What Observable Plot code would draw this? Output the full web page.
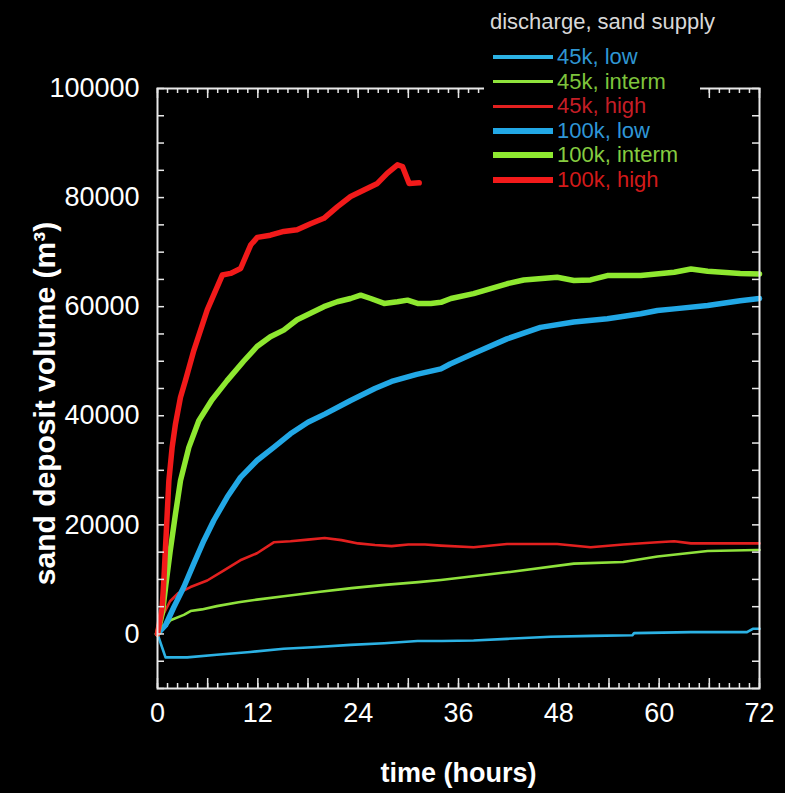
<!DOCTYPE html>
<html>
<head>
<meta charset="utf-8">
<script src="https://cdn.jsdelivr.net/npm/d3@7"></script>
<script src="https://cdn.jsdelivr.net/npm/@observablehq/plot@0.6"></script>
<style>
html, body { margin: 0; padding: 0; background: #000; }
#wrap { position: relative; width: 785px; height: 793px; background: #000; overflow: hidden; font-family: "Liberation Sans", Arial, sans-serif; }
#legend { position: absolute; left: 484px; top: 0; width: 216px; height: 192px; background: #000; }
#legend .title { position: absolute; left: 6px; top: 9px; font-size: 22px; line-height: 26px; color: #d8d8d8; white-space: nowrap; }
#legend .row { position: absolute; left: 0; height: 24px; white-space: nowrap; }
#legend .sw { position: absolute; left: 9px; width: 60px; }
#legend .lab { position: absolute; left: 73px; top: 0; font-size: 22px; line-height: 24px; }
</style>
</head>
<body>
<div id="wrap"><div id="legend"></div></div>
<script>
// ---- data ----
const seriesNames = ["45k, low", "45k, interm", "45k, high", "100k, low", "100k, interm", "100k, high"];
const legendTitle = "discharge, sand supply";

const time45low = [0, 0.96, 3.55, 7.1, 11.1, 15.1, 19.1, 23.1, 27.1, 31.1, 34, 37.8, 41.8, 47, 52, 56.8, 57, 63.8, 70.5, 71.2, 72];
const vol45low  = [0, -4300, -4300, -3800, -3300, -2700, -2400, -2000, -1700, -1300, -1300, -1200, -900, -500, -350, -250, 150, 330, 330, 950, 950];

const time45interm = [0, 0.5, 1.16, 1.55, 3.15, 3.95, 5.3, 7.1, 9.7, 11.9, 15.1, 19.2, 23.2, 27.2, 31.2, 33.9, 41.8, 49.8, 55.7, 59.8, 65.8, 71.7, 72];
const vol45interm  = [0, 1000, 1800, 2500, 3500, 4200, 4500, 5100, 5800, 6300, 6900, 7700, 8400, 9000, 9500, 9900, 11300, 12900, 13200, 14200, 15200, 15400, 15400];

const time45high = [0, 0.5, 1.5, 2.5, 3.95, 5.95, 7.9, 9.9, 11.9, 13.9, 15.9, 18, 20, 22, 24, 26, 28, 30, 32, 33.9, 37.8, 41.8, 47.8, 51.8, 55.7, 59.8, 61.8, 63.8, 72];
const vol45high  = [0, 3000, 6000, 7500, 8600, 9800, 11600, 13500, 14800, 16800, 17000, 17300, 17600, 17200, 16600, 16300, 16100, 16400, 16400, 16200, 15900, 16500, 16500, 15900, 16400, 16800, 17000, 16600, 16600];

const time100low = [0, 0.96, 1.95, 3.15, 4.34, 5.54, 6.73, 8.34, 9.93, 11.9, 13.9, 15.9, 18, 20, 23.1, 26, 28, 31, 33.9, 35, 37.8, 41.8, 45.8, 49.8, 53.8, 57.8, 59.8, 61.8, 65.8, 69.7, 72];
const vol100low  = [0, 1600, 4900, 8600, 12900, 17100, 20800, 25100, 28700, 31800, 34200, 36700, 38800, 40300, 42800, 45000, 46300, 47600, 48600, 49500, 51400, 54100, 56200, 57200, 57800, 58700, 59300, 59600, 60200, 61100, 61500];

const time100interm = [0, 0.6, 1.0, 1.5, 2.15, 2.75, 3.75, 4.94, 6.5, 8.3, 10.3, 11.9, 13.5, 15.1, 16.7, 18.3, 19.9, 21.5, 23.1, 24.3, 25.5, 27.1, 28.7, 29.9, 31.1, 32.7, 33.9, 35.1, 37.8, 41.8, 43.8, 47.8, 49.8, 51.8, 53.8, 57.8, 61.8, 63.8, 65.8, 69.7, 72];
const vol100interm  = [0, 4000, 9000, 15000, 22000, 28100, 34200, 39100, 42900, 46400, 50000, 52700, 54500, 55700, 57600, 58800, 60000, 60900, 61500, 62100, 61500, 60600, 60900, 61200, 60600, 60600, 60800, 61500, 62400, 64200, 64900, 65400, 64800, 64900, 65700, 65700, 66300, 66900, 66500, 66100, 66000];

const time100high = [0, 0.56, 0.76, 0.96, 1.16, 1.36, 1.75, 2.15, 2.75, 3.35, 4.35, 5.95, 7.75, 8.74, 9.94, 11.14, 11.94, 13.5, 15.1, 16.7, 18.3, 19.9, 21.5, 23.1, 24.7, 26.3, 27.5, 28.7, 29.3, 30.1, 31.3];
const vol100high  = [0, 4900, 9800, 15900, 22000, 28100, 34200, 38500, 43400, 46500, 52000, 59400, 65800, 66100, 67000, 71300, 72700, 73100, 73800, 74100, 75200, 76200, 78300, 80200, 81400, 82600, 84500, 86000, 85700, 82600, 82700];

const xTickLabels = [0, 12, 24, 36, 48, 60, 72];
const yTickLabels = [0, 20000, 40000, 60000, 80000, 100000];
const xMinorTicks = d3.range(0, 72.001, 1.2);
const xMajorTicks = d3.range(0, 72.001, 6);
const yMinorTicks = d3.range(-10000, 100001, 5000);

// ---- styles ----
const lineColors = ["#2cb2e4", "#8fe23c", "#e3201f", "#22a8e6", "#8ee830", "#f21a1a"];
const textColors = ["#2f96d2", "#7ec43c", "#c41e26", "#2f96d6", "#86cc40", "#d21a1a"];
const lineWidths = [2.6, 2.6, 2.6, 5.5, 5.5, 5.5];

const times = [time45low, time45interm, time45high, time100low, time100interm, time100high];
const vols  = [vol45low, vol45interm, vol45high, vol100low, vol100interm, vol100high];
const series = seriesNames.map((name, i) => times[i].map((t, j) => ({series: name, t, v: vols[i][j]})));

const W = 785, H = 793, mT = 88, mR = 26, mB = 105, mL = 157;
const pw = W - mL - mR, ph = H - mT - mB;

const font = "Liberation Sans, Arial, Helvetica, sans-serif";

const chart = Plot.plot({
  width: W, height: H,
  marginTop: mT, marginRight: mR, marginBottom: mB, marginLeft: mL,
  style: {background: "#000", color: "#fff", fontFamily: font},
  x: {domain: [0, 72]},
  y: {domain: [-10000, 100000]},
  marks: [
    // lines: thin (45k) first, then thick (100k)
    ...series.map((d, i) => Plot.line(d, {x: "t", y: "v", stroke: lineColors[i], strokeWidth: lineWidths[i], strokeLinejoin: "round", strokeLinecap: "round"})),
    Plot.frame({stroke: "#e8e8e8", strokeWidth: 2}),
    // inward ticks on all four sides
    Plot.tickX(xMinorTicks, {x: d => d, insetTop: ph - 5, stroke: "#e8e8e8", strokeWidth: 1.5}),
    Plot.tickX(xMajorTicks, {x: d => d, insetTop: ph - 10, stroke: "#e8e8e8", strokeWidth: 1.5}),
    Plot.tickX(xMinorTicks, {x: d => d, insetBottom: ph - 5, stroke: "#e8e8e8", strokeWidth: 1.5}),
    Plot.tickX(xMajorTicks, {x: d => d, insetBottom: ph - 10, stroke: "#e8e8e8", strokeWidth: 1.5}),
    Plot.tickY(yMinorTicks, {y: d => d, insetRight: pw - 7, stroke: "#e8e8e8", strokeWidth: 1.5}),
    Plot.tickY(yMinorTicks, {y: d => d, insetLeft: pw - 7, stroke: "#e8e8e8", strokeWidth: 1.5}),
    // tick labels
    Plot.axisX({ticks: xTickLabels, tickSize: 0, tickPadding: 14, fontSize: 27, label: null, tickFormat: d3.format("d")}),
    Plot.axisY({ticks: yTickLabels, tickSize: 0, tickPadding: 18, fontSize: 27, label: null, tickFormat: d3.format("d")}),
    // axis titles
    Plot.text(["time (hours)"], {frameAnchor: "bottom", textAnchor: "middle", dy: 93, fontSize: 27, fontWeight: "bold", fill: "#fff"}),
    Plot.text(["sand deposit volume (m³)"], {frameAnchor: "left", textAnchor: "middle", lineAnchor: "middle", rotate: -90, dx: -112, dy: 15, fontSize: 30, fontWeight: "bold", fill: "#fff"})
  ]
});
const wrap = document.getElementById("wrap");
wrap.insertBefore(chart, wrap.firstChild);

// legend (overlaps the top of the frame, as in the reference)
const legend = document.getElementById("legend");
const title = document.createElement("div");
title.className = "title";
title.textContent = legendTitle;
legend.appendChild(title);
seriesNames.forEach((name, i) => {
  const row = document.createElement("div");
  row.className = "row";
  row.style.top = (45 + i * 24.6) + "px";
  const sw = document.createElement("div");
  sw.className = "sw";
  sw.style.height = (lineWidths[i] + 0.5) + "px";
  sw.style.top = (12 - (lineWidths[i] + 0.5) / 2) + "px";
  sw.style.background = lineColors[i];
  const lab = document.createElement("div");
  lab.className = "lab";
  lab.style.color = textColors[i];
  lab.textContent = name;
  row.appendChild(sw);
  row.appendChild(lab);
  legend.appendChild(row);
});
</script>
</body>
</html>
